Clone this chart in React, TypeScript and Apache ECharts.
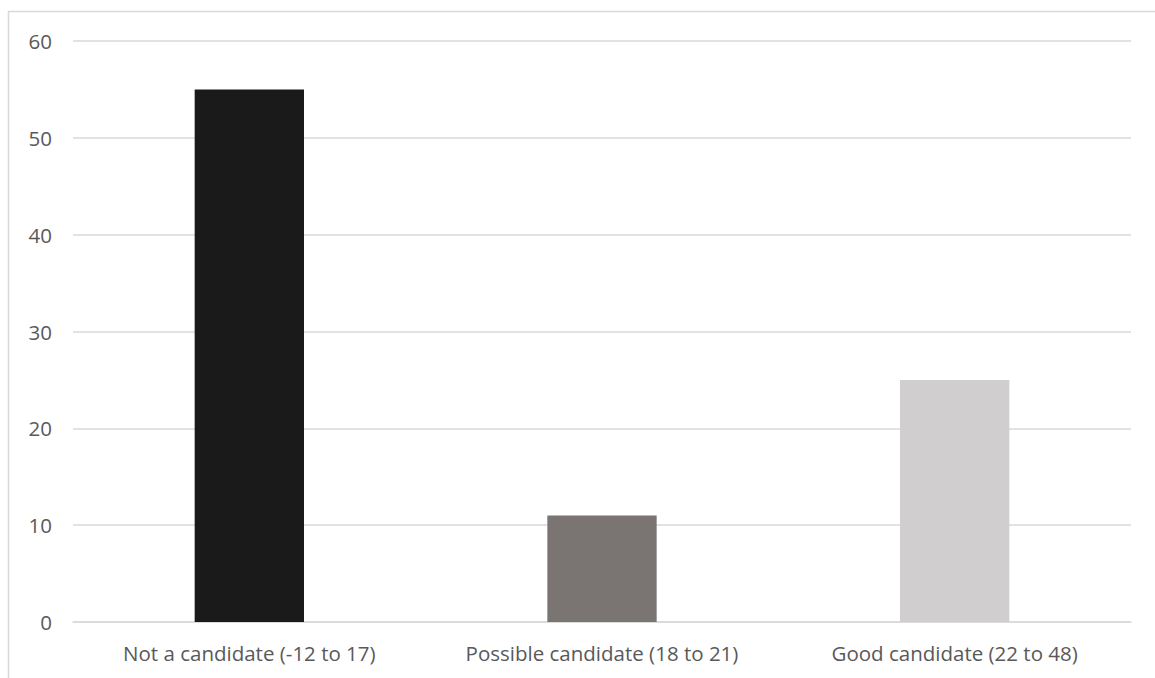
import React, { useEffect, useRef } from "react";
import * as echarts from "echarts";

const categories = ["Not a candidate (-12 to 17)", "Possible candidate (18 to 21)", "Good candidate (22 to 48)"];
const values = [55, 11, 25];
const barColors = ["#1b1a1a", "#7a7472", "#d0cece"];
const yTicks = { min: 0, max: 60, interval: 10 };

export default function App() {
  const ref = useRef<HTMLDivElement>(null);
  useEffect(() => {
    const chart = echarts.init(ref.current!, null, { renderer: "svg" });
    chart.setOption({
      animation: false,
      backgroundColor: "#ffffff",
      textStyle: { fontFamily: "Open Sans" },
      graphic: [
        {
          type: "rect",
          shape: { x: 8.5, y: 11.5, width: 1300, height: 800 },
          style: { fill: "none", stroke: "#d9d9d9", lineWidth: 1.5 },
          silent: true,
          z: -1,
        },
      ],
      grid: { left: 73, right: 24, top: 41, bottom: 56 },
      xAxis: {
        type: "category",
        data: categories,
        axisLine: { show: true, lineStyle: { color: "#d9d9d9", width: 1.5 } },
        axisTick: { show: false },
        axisLabel: {
          color: "#595959",
          fontSize: 20.5,
          margin: 20,
          fontFamily: "Open Sans",
          interval: 0,
          hideOverlap: false,
        },
      },
      yAxis: {
        type: "value",
        min: yTicks.min,
        max: yTicks.max,
        interval: yTicks.interval,
        axisLine: { show: false },
        axisTick: { show: false },
        splitLine: { lineStyle: { color: "#d9d9d9", width: 1.5 } },
        axisLabel: { color: "#595959", fontSize: 20.5, margin: 21, fontFamily: "Open Sans" },
      },
      series: [
        {
          type: "bar",
          data: values.map((v, i) => ({ value: v, itemStyle: { color: barColors[i] } })),
          barWidth: "31%",
        },
      ],
    });
    return () => chart.dispose();
  }, []);
  return <div ref={ref} style={{ position: "absolute", left: 0, top: 0, width: 1155, height: 678 }} />;
}
